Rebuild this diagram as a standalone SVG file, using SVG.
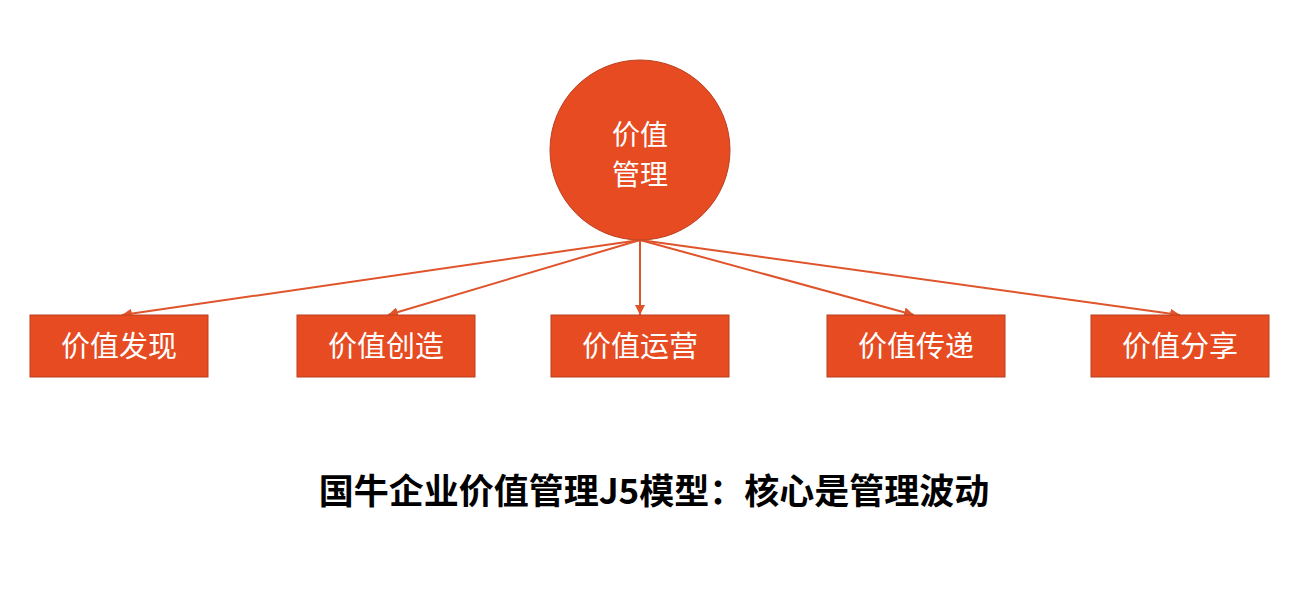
<svg xmlns="http://www.w3.org/2000/svg" width="1308" height="600" viewBox="0 0 1308 600">
<defs>
<style>
.box{fill:#E64B22;stroke:#B9401E;stroke-width:1}
.lbl{font-family:"Noto Sans CJK SC","Noto Sans",sans-serif;font-size:29px;fill:#fff;text-anchor:middle}
.clbl{font-family:"Noto Sans CJK SC","Noto Sans",sans-serif;font-size:28px;fill:#fff;text-anchor:middle}
.con{stroke:#E0542C;stroke-width:2;fill:none;marker-end:url(#ah)}
.title{font-family:"Noto Sans CJK SC","Noto Sans",sans-serif;font-size:35px;font-weight:bold;fill:#000;text-anchor:middle}
</style>
<marker id="ah" viewBox="0 0 10 10" refX="10" refY="5" markerWidth="5" markerHeight="5" orient="auto" markerUnits="strokeWidth">
<path d="M0,0 L10,5 L0,10 z" fill="#E0542C"/>
</marker>
</defs>
<rect width="1308" height="600" fill="#fff"/>
<g id="connectors">
<line class="con" x1="640" y1="240" x2="122" y2="315"/>
<line class="con" x1="640" y1="240" x2="388" y2="315"/>
<line class="con" x1="640" y1="240" x2="640" y2="315"/>
<line class="con" x1="640" y1="240" x2="914" y2="315"/>
<line class="con" x1="640" y1="240" x2="1180" y2="315"/>
</g>
<g id="center">
<circle cx="640" cy="150" r="90" class="box"/>
<text class="clbl" x="640" y="145">价值</text>
<text class="clbl" x="640" y="185">管理</text>
</g>
<g id="n1"><rect class="box" x="30" y="315" width="178" height="62"/><text class="lbl" x="119" y="357">价值发现</text></g>
<g id="n2"><rect class="box" x="297" y="315" width="178" height="62"/><text class="lbl" x="386" y="357">价值创造</text></g>
<g id="n3"><rect class="box" x="551" y="315" width="178" height="62"/><text class="lbl" x="640" y="357">价值运营</text></g>
<g id="n4"><rect class="box" x="827" y="315" width="178" height="62"/><text class="lbl" x="916" y="357">价值传递</text></g>
<g id="n5"><rect class="box" x="1091" y="315" width="178" height="62"/><text class="lbl" x="1180" y="357">价值分享</text></g>
<g id="title"><text class="title" x="654" y="504">国牛企业价值管理J5模型：核心是管理波动</text></g>
</svg>
